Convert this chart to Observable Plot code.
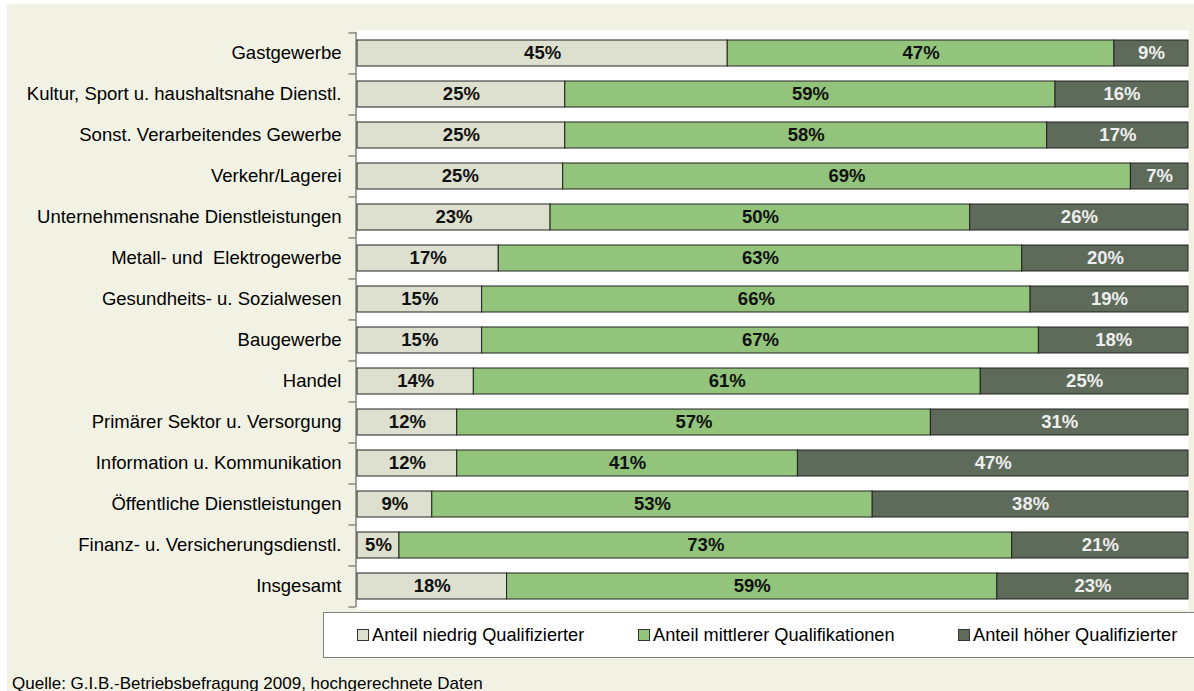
<!DOCTYPE html>
<html><head><meta charset="utf-8">
<script src="https://cdn.jsdelivr.net/npm/d3@7"></script>
<script src="https://cdn.jsdelivr.net/npm/@observablehq/plot@0.6"></script>
<style>
body{margin:0;background:#fff;font-family:"Liberation Sans",Arial,sans-serif;}
#bg{position:absolute;left:7px;top:4px;width:1187px;height:687px;background:#f2f2e4;}
#chart{position:absolute;left:0;top:0;}
#legend{position:absolute;left:323px;top:612px;width:871px;height:46px;box-sizing:border-box;background:#fff;border:1.5px solid #7f7f7f;border-right:none;font-size:18.2px;color:#000;}
.item{position:absolute;top:0;height:100%;display:flex;align-items:center;white-space:nowrap;}
.sw{width:10px;height:10px;border:1px solid #333;margin-right:3px;}
#caption{position:absolute;left:12px;top:674px;font-size:17px;color:#000;}
</style>
</head><body>
<div id="bg"></div>
<div id="chart"></div>
<div id="legend"></div>
<div id="caption">Quelle: G.I.B.-Betriebsbefragung 2009, hochgerechnete Daten</div>
<script>
const categories = [
  "Gastgewerbe",
  "Kultur, Sport u. haushaltsnahe Dienstl.",
  "Sonst. Verarbeitendes Gewerbe",
  "Verkehr/Lagerei",
  "Unternehmensnahe Dienstleistungen",
  "Metall- und  Elektrogewerbe",
  "Gesundheits- u. Sozialwesen",
  "Baugewerbe",
  "Handel",
  "Primärer Sektor u. Versorgung",
  "Information u. Kommunikation",
  "Öffentliche Dienstleistungen",
  "Finanz- u. Versicherungsdienstl.",
  "Insgesamt"
];
const series = ["Anteil niedrig Qualifizierter", "Anteil mittlerer Qualifikationen", "Anteil höher Qualifizierter"];
const niedrig = [45, 25, 25, 25, 23, 17, 15, 15, 14, 12, 12, 9, 5, 18];
const mittel  = [47, 59, 58, 69, 50, 63, 66, 67, 61, 57, 41, 53, 73, 59];
const hoch    = [9, 16, 17, 7, 26, 20, 19, 18, 25, 31, 47, 38, 21, 23];
const colors = ["#dde0cf", "#92c47b", "#5f6b5a"];
const labelColors = ["#111", "#111", "#eeeeee"];

const valuesBySeries = [niedrig, mittel, hoch];
const data = [];
categories.forEach((c, i) => {
  series.forEach((s, j) => data.push({cat: c, series: s, value: valuesBySeries[j][i]}));
});

const W = 1194, H = 612, mt = 32, mb = 5, ml = 357, mr = 6;
const step = (H - mt - mb) / categories.length;

const plot = Plot.plot({
  width: W, height: H,
  marginTop: mt, marginBottom: mb, marginLeft: ml, marginRight: mr,
  style: {background: "transparent", fontFamily: "'Liberation Sans', Arial, sans-serif"},
  x: {domain: [0, 1], axis: null},
  y: {domain: categories, paddingInner: 0.367, paddingOuter: 0.1835, label: null},
  color: {domain: series, range: colors},
  marks: [
    Plot.frame({fill: "white", stroke: null, insetTop: -2, insetBottom: -2}),
    Plot.barX(data, Plot.stackX({offset: "normalize", x: "value", y: "cat", fill: "series", stroke: "#222", strokeWidth: 1})),
    Plot.text(data, Plot.stackX({offset: "normalize", x: "value", y: "cat",
      text: d => d.value + "%",
      fill: d => labelColors[series.indexOf(d.series)],
      fontSize: 18.5, fontWeight: "bold"})),
    Plot.ruleX([0], {dx: -1.5, stroke: "#555", strokeWidth: 1}),
    Plot.ruleY(categories, {y: d => d, x1: 0, x2: 0, insetLeft: -7, dx: -1.5, dy: -step / 2, stroke: "#555"}),
    Plot.ruleY(categories.slice(-1), {y: d => d, x1: 0, x2: 0, insetLeft: -7, dx: -1.5, dy: step / 2, stroke: "#555"}),
    Plot.axisY({tickSize: 0, tickPadding: 16, fontSize: 18.5, fill: "#000", label: null})
  ]
});
document.getElementById("chart").appendChild(plot);

const legend = document.getElementById("legend");
const lefts = [33, 314, 634];
series.forEach((s, j) => {
  const it = document.createElement("div");
  it.className = "item";
  it.style.left = lefts[j] + "px";
  const sw = document.createElement("span");
  sw.className = "sw";
  sw.style.background = colors[j];
  it.appendChild(sw);
  const t = document.createElement("span");
  t.textContent = s;
  it.appendChild(t);
  legend.appendChild(it);
});
</script>
</body></html>
